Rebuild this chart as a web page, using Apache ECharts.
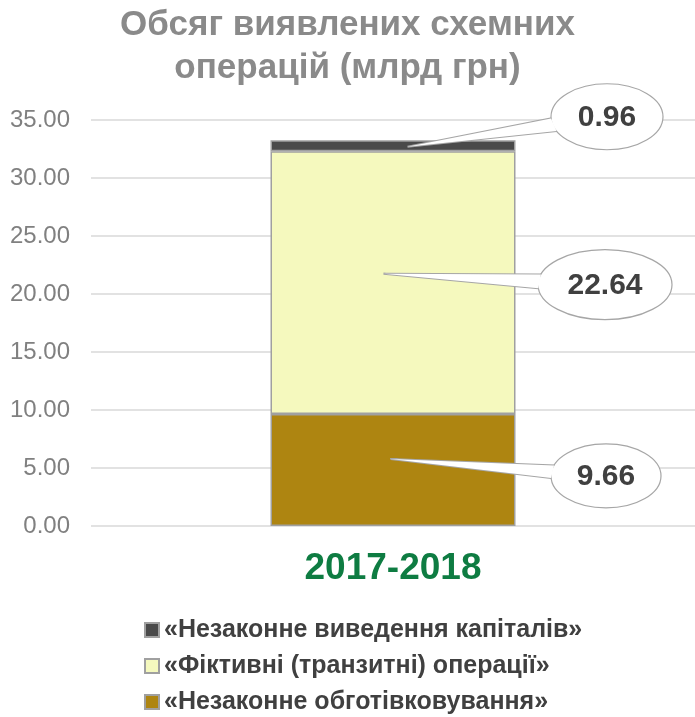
<!DOCTYPE html>
<html><head><meta charset="utf-8">
<script src="https://cdn.jsdelivr.net/npm/echarts@6/dist/echarts.min.js"></script>
<style>html,body{margin:0;padding:0;background:#fff}#c{width:695px;height:717px}</style>
</head><body><div id="c"></div>
<script>
var titleText = 'Обсяг виявлених схемних\nоперацій (млрд грн)';
var categories = ['2017-2018'];
var seriesNames = ['«Незаконне обготівковування»', '«Фіктивні (транзитні) операції»', '«Незаконне виведення капіталів»'];
var cashValues = [9.66];
var fictitiousValues = [22.64];
var capitalValues = [0.96];
var yTicks = [0, 5, 10, 15, 20, 25, 30, 35];
var legendOrder = [seriesNames[2], seriesNames[1], seriesNames[0]];

var colors = ['#AE8511', '#F5F9BE', '#4A4A4A'];
var font = '"Liberation Sans", Arial, sans-serif';

var stacks = [cashValues, fictitiousValues, capitalValues];
var calloutData = [];
var base = 0;
for (var s = 0; s < stacks.length; s++) {
  calloutData.push([0, base, stacks[s][0], s]);
  base += stacks[s][0];
}
var calloutStyle = [
  {adx: -2.5, ady: -11, cdx: 213, cdy: 6, rx: 55, ry: 32},
  {adx: -9.5, ady: -9, cdx: 212, cdy: 2, rx: 67, ry: 35},
  {adx: 14.5, ady: 1, cdx: 214, cdy: -29, rx: 56, ry: 33}
];

function renderCallout(params, api) {
  var idx = api.value(3);
  var st = calloutStyle[idx];
  var b = api.value(1), v = api.value(2);
  var mid = api.coord([api.value(0), b + v / 2]);
  var ax = mid[0] + st.adx, ay = mid[1] + st.ady;
  var cx = mid[0] + st.cdx, cy = mid[1] + st.cdy;
  var th = Math.atan2((ay - cy) / st.ry, (ax - cx) / st.rx);
  var d = 0.2;
  var A = [cx + st.rx * Math.cos(th - d), cy + st.ry * Math.sin(th - d)];
  var B = [cx + st.rx * Math.cos(th + d), cy + st.ry * Math.sin(th + d)];
  var stroke = '#A6A6A6';
  return {
    type: 'group',
    children: [
      {type: 'polygon', shape: {points: [A, [ax, ay], B]}, style: {fill: '#fff', stroke: stroke, lineWidth: 2}},
      {type: 'ellipse', shape: {cx: cx, cy: cy, rx: st.rx, ry: st.ry}, style: {fill: '#fff', stroke: stroke, lineWidth: 1.2}},
      {type: 'polygon', shape: {points: [A, [ax, ay], B]}, style: {fill: '#fff', stroke: null, lineWidth: 0}},
      {type: 'text', style: {x: cx, y: cy + 1, text: v.toFixed(2), fill: '#404040', font: 'bold 30px ' + font, align: 'center', verticalAlign: 'middle'}}
    ]
  };
}

var chart = echarts.init(document.getElementById('c'));
var barSeries = stacks.map(function (vals, i) {
  return {
    name: seriesNames[i], type: 'bar', stack: 'total', data: vals, barWidth: 245,
    itemStyle: {color: colors[i], borderColor: '#A0A0A0', borderWidth: 1.5},
    emphasis: {disabled: true}
  };
});
barSeries.push({
  type: 'custom', renderItem: renderCallout, data: calloutData, z: 10, silent: true,
  encode: {x: 0, y: 2}
});

var legendTops = [612, 648, 684];
var legends = legendOrder.map(function (name, i) {
  return {
    orient: 'vertical', left: 139, top: legendTops[i], data: [name],
    itemWidth: 14, itemHeight: 14, icon: 'rect', selectedMode: false,
    textStyle: {fontFamily: font, fontSize: 25, fontWeight: 'bold', color: '#404040', lineHeight: 26}
  };
});

chart.setOption({
  animation: false,
  title: {
    text: titleText, left: 'center', top: -1,
    textStyle: {fontFamily: font, fontSize: 35, fontWeight: 'bold', color: '#8A8A8A', lineHeight: 43}
  },
  grid: {left: 91, width: 609, top: 120, bottom: 191, containLabel: false},
  legend: legends,
  xAxis: {
    type: 'category', data: categories,
    axisLine: {show: false}, axisTick: {show: false},
    axisLabel: {fontFamily: font, fontSize: 37, fontWeight: 'bold', color: '#0E7C42', margin: 24}
  },
  yAxis: {
    type: 'value', min: yTicks[0], max: yTicks[yTicks.length - 1], interval: yTicks[1] - yTicks[0],
    axisLine: {show: false}, axisTick: {show: false},
    splitLine: {lineStyle: {color: '#D9D9D9', width: 1.5}},
    axisLabel: {fontFamily: font, fontSize: 24, color: '#808080', margin: 21,
      formatter: function (v) { return v.toFixed(2); }}
  },
  series: barSeries
});
</script></body></html>
